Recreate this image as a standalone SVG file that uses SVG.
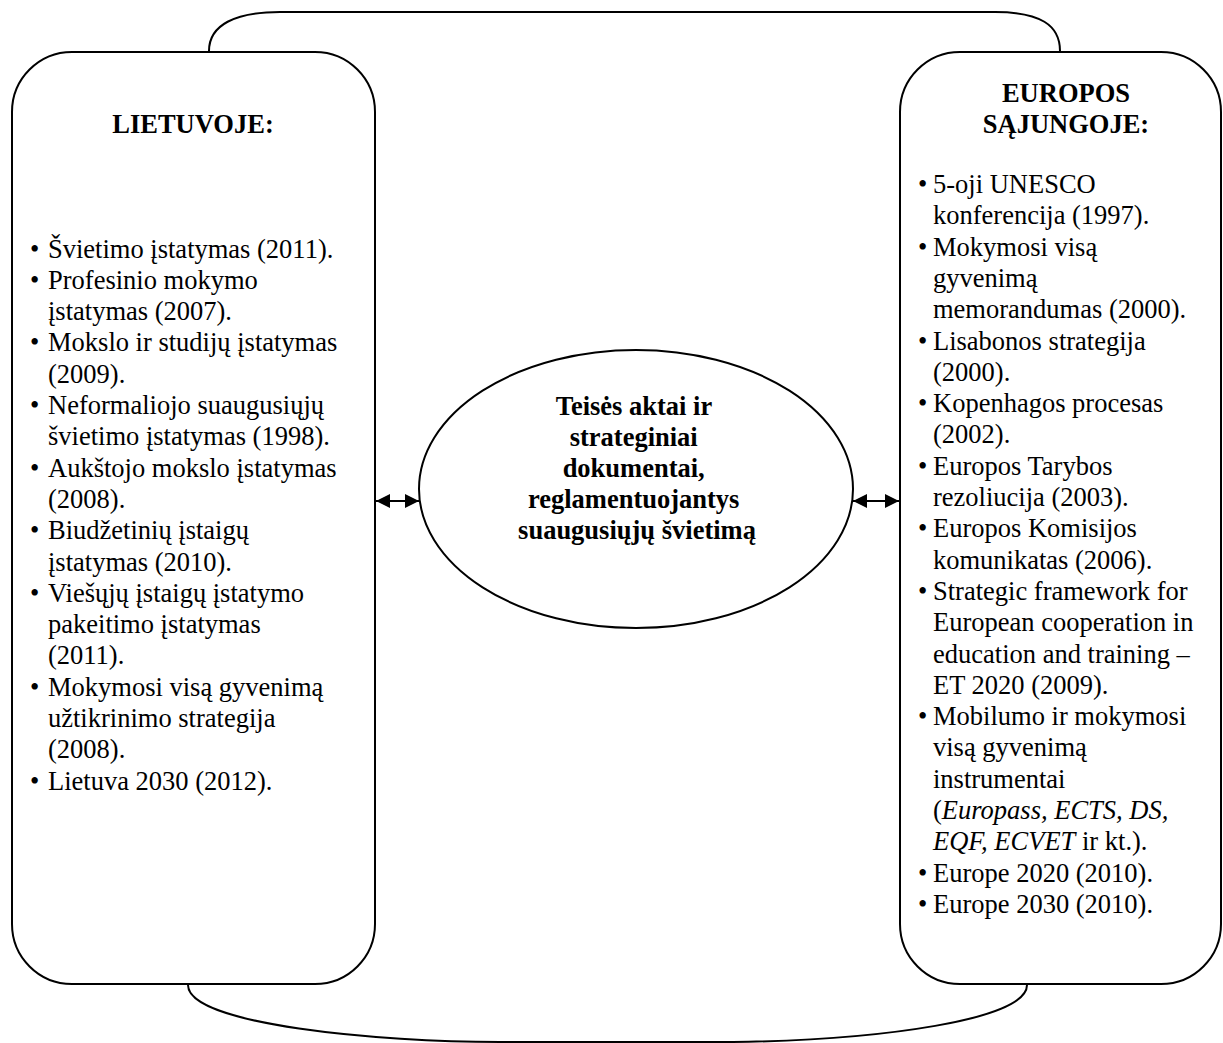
<svg xmlns="http://www.w3.org/2000/svg" width="1223" height="1043" viewBox="0 0 1223 1043">
<style>
.shape{fill:#fff;stroke:#000;stroke-width:2}
.conn{fill:none;stroke:#000;stroke-width:2}
.t{font-family:"Liberation Serif","Times New Roman",serif;font-size:26.5px;fill:#000}
.b{font-weight:bold}
.c{text-anchor:middle}
.i{font-style:italic}
</style>
<defs>
<marker id="ah" viewBox="0 0 14 14" refX="14" refY="7" markerWidth="14" markerHeight="14" markerUnits="userSpaceOnUse" orient="auto-start-reverse">
<path d="M0,0 L14,7 L0,14 Z" fill="#000"/>
</marker>
</defs>
<rect width="1223" height="1043" fill="#fff"/>
<g id="connectors">
<path class="conn" d="M209,51 C209,25 235,12 280,12 L995,12 C1040,12 1060,25 1060,51"/>
<path class="conn" d="M188,985 C188,1025 380,1042 500,1042 L733,1042 C880,1040 1027,1020 1027,985"/>
<line class="conn" x1="376" y1="501" x2="419" y2="501" marker-start="url(#ah)" marker-end="url(#ah)"/>
<line class="conn" x1="853" y1="501" x2="899" y2="501" marker-start="url(#ah)" marker-end="url(#ah)"/>
</g>
<g id="node-lietuvoje">
<rect class="shape" x="12" y="52" width="363" height="932" rx="60" ry="60"/>
<text class="t b c" x="193" y="133">LIETUVOJE:</text>
<text class="t">
<tspan x="30" y="257.5">•</tspan><tspan x="48" y="257.5">Švietimo įstatymas (2011).</tspan>
<tspan x="30" y="288.8">•</tspan><tspan x="48" y="288.8">Profesinio mokymo</tspan>
<tspan x="48" y="320.1">įstatymas (2007).</tspan>
<tspan x="30" y="351.4">•</tspan><tspan x="48" y="351.4">Mokslo ir studijų įstatymas</tspan>
<tspan x="48" y="382.7">(2009).</tspan>
<tspan x="30" y="414">•</tspan><tspan x="48" y="414">Neformaliojo suaugusiųjų</tspan>
<tspan x="48" y="445.3">švietimo įstatymas (1998).</tspan>
<tspan x="30" y="476.6">•</tspan><tspan x="48" y="476.6">Aukštojo mokslo įstatymas</tspan>
<tspan x="48" y="507.9">(2008).</tspan>
<tspan x="30" y="539.2">•</tspan><tspan x="48" y="539.2">Biudžetinių įstaigų</tspan>
<tspan x="48" y="570.5">įstatymas (2010).</tspan>
<tspan x="30" y="601.8">•</tspan><tspan x="48" y="601.8">Viešųjų įstaigų įstatymo</tspan>
<tspan x="48" y="633.1">pakeitimo įstatymas</tspan>
<tspan x="48" y="664.4">(2011).</tspan>
<tspan x="30" y="695.7">•</tspan><tspan x="48" y="695.7">Mokymosi visą gyvenimą</tspan>
<tspan x="48" y="727">užtikrinimo strategija</tspan>
<tspan x="48" y="758.3">(2008).</tspan>
<tspan x="30" y="789.6">•</tspan><tspan x="48" y="789.6">Lietuva 2030 (2012).</tspan>
</text>
</g>
<g id="node-europos">
<rect class="shape" x="900" y="52" width="321" height="932" rx="60" ry="60"/>
<text class="t b c" x="1066" y="102">EUROPOS</text>
<text class="t b c" x="1066" y="133">SĄJUNGOJE:</text>
<text class="t">
<tspan x="918" y="193">•</tspan><tspan x="933" y="193">5-oji UNESCO</tspan>
<tspan x="933" y="224.3">konferencija (1997).</tspan>
<tspan x="918" y="255.6">•</tspan><tspan x="933" y="255.6">Mokymosi visą</tspan>
<tspan x="933" y="286.9">gyvenimą</tspan>
<tspan x="933" y="318.2">memorandumas (2000).</tspan>
<tspan x="918" y="349.5">•</tspan><tspan x="933" y="349.5">Lisabonos strategija</tspan>
<tspan x="933" y="380.8">(2000).</tspan>
<tspan x="918" y="412.1">•</tspan><tspan x="933" y="412.1">Kopenhagos procesas</tspan>
<tspan x="933" y="443.4">(2002).</tspan>
<tspan x="918" y="474.7">•</tspan><tspan x="933" y="474.7">Europos Tarybos</tspan>
<tspan x="933" y="506">rezoliucija (2003).</tspan>
<tspan x="918" y="537.3">•</tspan><tspan x="933" y="537.3">Europos Komisijos</tspan>
<tspan x="933" y="568.6">komunikatas (2006).</tspan>
<tspan x="918" y="599.9">•</tspan><tspan x="933" y="599.9">Strategic framework for</tspan>
<tspan x="933" y="631.2">European cooperation in</tspan>
<tspan x="933" y="662.5">education and training –</tspan>
<tspan x="933" y="693.8">ET 2020 (2009).</tspan>
<tspan x="918" y="725.1">•</tspan><tspan x="933" y="725.1">Mobilumo ir mokymosi</tspan>
<tspan x="933" y="756.4">visą gyvenimą</tspan>
<tspan x="933" y="787.7">instrumentai</tspan>
<tspan x="933" y="819">(</tspan><tspan class="i">Europass, ECTS, DS,</tspan>
<tspan x="933" y="850.3" class="i">EQF, ECVET</tspan><tspan> ir kt.).</tspan>
<tspan x="918" y="881.6">•</tspan><tspan x="933" y="881.6">Europe 2020 (2010).</tspan>
<tspan x="918" y="912.9">•</tspan><tspan x="933" y="912.9">Europe 2030 (2010).</tspan>
</text>
</g>
<g id="node-center">
<ellipse class="shape" cx="636" cy="489" rx="217" ry="139"/>
<text class="t b c">
<tspan x="637" y="415">Teisės aktai ir</tspan>
<tspan x="637" y="446">strateginiai</tspan>
<tspan x="637" y="477">dokumentai,</tspan>
<tspan x="637" y="508">reglamentuojantys</tspan>
<tspan x="637" y="539">suaugusiųjų švietimą</tspan>
</text>
</g>
</svg>
